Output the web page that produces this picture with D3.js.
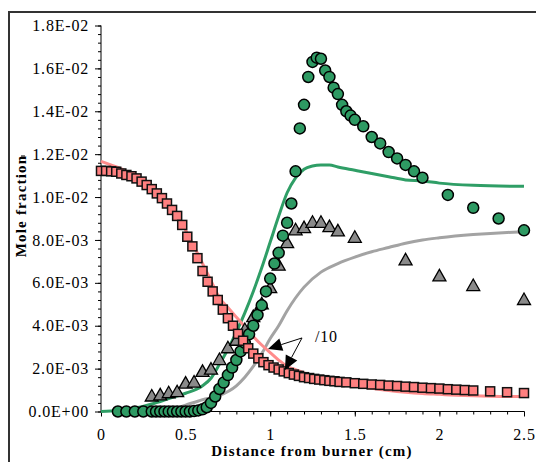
<!DOCTYPE html>
<html lang="en">
<head>
<meta charset="utf-8">
<title>Mole fraction vs distance</title>
<script src="https://cdn.jsdelivr.net/npm/d3@7"></script>
<style>
    body { margin: 0; background: #fff; }
    svg { display: block; }
</style>
</head>
<body>
<svg width="536" height="462"></svg>
<script>
// values in units of 1E-03 mole fraction
var squareX = [0, 0.03, 0.06, 0.09, 0.12, 0.15, 0.18, 0.21, 0.24, 0.27, 0.30, 0.33, 0.36, 0.39, 0.42, 0.45, 0.48,
    0.51, 0.54, 0.57, 0.60, 0.63, 0.66, 0.69, 0.72, 0.75, 0.78, 0.81, 0.84, 0.87, 0.90, 0.93, 0.96, 0.99, 1.02,
    1.05, 1.08, 1.11, 1.14, 1.17, 1.20, 1.23, 1.26, 1.29, 1.32, 1.35, 1.38, 1.41, 1.45, 1.50, 1.55, 1.60, 1.65,
    1.70, 1.75, 1.80, 1.85, 1.90, 1.95, 2.00, 2.05, 2.10, 2.15, 2.20, 2.30, 2.40, 2.50];
var squareY = [11.22, 11.22, 11.20, 11.18, 11.10, 11.03, 10.97, 10.87, 10.72, 10.56, 10.37, 10.17, 9.95, 9.70, 9.40,
    9.12, 8.70, 8.15, 7.70, 7.15, 6.55, 6.05, 5.60, 5.20, 4.75, 4.35, 4.00, 3.62, 3.30, 2.95, 2.70, 2.48, 2.30,
    2.16, 2.05, 1.96, 1.87, 1.79, 1.72, 1.66, 1.60, 1.56, 1.52, 1.49, 1.46, 1.43, 1.41, 1.38, 1.36, 1.32, 1.29,
    1.26, 1.24, 1.21, 1.19, 1.16, 1.14, 1.11, 1.09, 1.07, 1.04, 1.02, 1.00, 0.98, 0.94, 0.90, 0.86];

var pinkLineX = [0, 0.05, 0.1, 0.15, 0.2, 0.25, 0.3, 0.35, 0.4, 0.45, 0.5, 0.55, 0.6, 0.65, 0.7, 0.75, 0.8, 0.85,
    0.9, 0.95, 1.0, 1.05, 1.1, 1.15, 1.2, 1.3, 1.4, 1.5, 1.6, 1.7, 1.8, 1.9, 2.0, 2.1, 2.2, 2.3, 2.4, 2.5];
var pinkLineY = [11.67, 11.52, 11.38, 11.2, 11.0, 10.75, 10.45, 10.1, 9.65, 9.1, 8.45, 7.7, 6.9, 6.1, 5.3, 4.85,
    4.4, 3.95, 3.5, 3.1, 2.75, 2.4, 2.1, 1.95, 1.8, 1.55, 1.35, 1.2, 1.08, 0.98, 0.9, 0.84, 0.8, 0.76, 0.73, 0.71,
    0.7, 0.7];

var circleX = [0.1, 0.15, 0.2, 0.25, 0.3, 0.325, 0.35, 0.375, 0.4, 0.425, 0.45, 0.475, 0.5, 0.525, 0.55, 0.575,
    0.6, 0.625, 0.65, 0.675, 0.7, 0.725, 0.75, 0.775, 0.8, 0.825, 0.85, 0.875, 0.9, 0.925, 0.95, 0.975, 1.0,
    1.025, 1.05, 1.075, 1.1, 1.125, 1.15, 1.175, 1.2, 1.225, 1.25, 1.275, 1.3, 1.325, 1.35, 1.375, 1.4, 1.425,
    1.45, 1.475, 1.5, 1.55, 1.6, 1.65, 1.7, 1.75, 1.8, 1.85, 1.9, 2.05, 2.2, 2.35, 2.5];
var circleY = [0, 0, 0, 0, 0, 0, 0, 0, 0, 0, 0, 0, 0, 0, 0.02, 0.05, 0.1, 0.2, 0.4, 0.7, 1.05, 1.35, 1.7, 2.05,
    2.4, 2.8, 3.2, 3.6, 4.0, 4.5, 4.95, 5.6, 6.2, 6.9, 7.4, 8.2, 8.8, 9.7, 11.2, 13.2, 14.3, 15.6, 16.3, 16.5,
    16.45, 15.9, 15.6, 15.1, 14.8, 14.3, 14.0, 13.8, 13.6, 13.3, 12.8, 12.5, 12.1, 11.8, 11.5, 11.2, 10.9, 10.1,
    9.5, 9.0, 8.45];

var greenLineX = [0, 0.1, 0.2, 0.3, 0.4, 0.5, 0.6, 0.65, 0.7, 0.75, 0.8, 0.85, 0.9, 0.95, 1.0, 1.05, 1.1, 1.15,
    1.2, 1.25, 1.3, 1.35, 1.4, 1.5, 1.6, 1.7, 1.8, 1.9, 2.0, 2.2, 2.5];
var greenLineY = [0, 0.05, 0.15, 0.35, 0.6, 0.85, 1.2, 1.55, 2.2, 2.9, 3.7, 4.6, 5.6, 6.7, 7.9, 9.1, 10.2, 10.9,
    11.3, 11.45, 11.5, 11.5, 11.4, 11.25, 11.1, 10.95, 10.8, 10.75, 10.65, 10.55, 10.5];

var triangleX = [0.3, 0.35, 0.4, 0.45, 0.5, 0.55, 0.6, 0.65, 0.7, 0.75, 0.8, 0.85, 0.9, 0.95, 1.0, 1.05, 1.1,
    1.15, 1.2, 1.25, 1.3, 1.35, 1.4, 1.5, 1.8, 2.0, 2.2, 2.5];
var triangleY = [0.7, 0.75, 0.85, 0.9, 1.3, 1.35, 1.85, 1.95, 2.4, 2.95, 3.3, 3.8, 4.4, 5.0, 5.75, 6.8, 7.85,
    8.45, 8.55, 8.8, 8.8, 8.6, 8.4, 8.1, 7.05, 6.3, 5.85, 5.2];

var grayLineX = [0.3, 0.4, 0.5, 0.6, 0.7, 0.8, 0.85, 0.9, 0.95, 1.0, 1.05, 1.1, 1.2, 1.3, 1.4, 1.5, 1.6, 1.7,
    1.8, 1.9, 2.0, 2.2, 2.4, 2.5];
var grayLineY = [0, 0.05, 0.3, 0.55, 0.75, 1.2, 1.6, 2.1, 2.7, 3.4, 4.0, 4.7, 5.8, 6.5, 6.9, 7.2, 7.45, 7.65,
    7.85, 8.0, 8.1, 8.25, 8.35, 8.38];

var xTicks = [0, 0.5, 1, 1.5, 2, 2.5];
var xTickLabels = ["0", "0.5", "1", "1.5", "2", "2.5"];
var yTicks = [0, 2, 4, 6, 8, 10, 12, 14, 16, 18];
var yTickLabels = ["0.0E+00", "2.0E-03", "4.0E-03", "6.0E-03", "8.0E-03", "1.0E-02", "1.2E-02", "1.4E-02",
    "1.6E-02", "1.8E-02"];

var serif = "'Liberation Serif', 'Times New Roman', Times, serif";
var svg = d3.select("svg");
var x = d3.scaleLinear().domain([0, 2.5]).range([101, 524]);
var y = d3.scaleLinear().domain([0, 18]).range([411.5, 25.5]);

function pts(xs, ys) {
    return xs.map(function (d, i) { return [d, ys[i]]; });
}
function tickText(sel) {
    sel.attr("font-family", null).attr("font-size", null)
        .style("font-family", serif).style("font-size", "16px").style("letter-spacing", "0.8px")
        .attr("fill", "#000");
}

// outer frame (cropped)
svg.append("line").attr("x1", 9).attr("y1", 11).attr("x2", 9).attr("y2", 462)
    .attr("stroke", "#333").attr("stroke-width", 2);
svg.append("line").attr("x1", 8).attr("y1", 12).attr("x2", 536).attr("y2", 12)
    .attr("stroke", "#333").attr("stroke-width", 2);
svg.append("line").attr("x1", 21).attr("y1", 156).attr("x2", 25).attr("y2", 156)
    .attr("stroke", "#000").attr("stroke-width", 1);

// axes
var yMinor = d3.range(0, 46).map(function (i) { return i * 0.4; });
svg.append("g").attr("transform", "translate(101,0)")
    .call(d3.axisLeft(y).tickValues(yMinor).tickSize(3).tickFormat(""))
    .call(function (g) { g.select(".domain").remove(); });
svg.append("g").attr("transform", "translate(101,0)")
    .call(d3.axisLeft(y).tickValues(yTicks).tickSize(6).tickPadding(6)
        .tickFormat(function (d, i) { return yTickLabels[i]; }))
    .call(function (g) {
        g.select(".domain").attr("d", "M0," + y(0) + "V" + y(18));
        g.selectAll("text").call(tickText);
    });

var xMinor = d3.range(0, 26).map(function (i) { return i * 0.1; });
svg.append("g").attr("transform", "translate(0," + y(0) + ")")
    .call(d3.axisBottom(x).tickValues(xMinor).tickSize(3).tickFormat(""))
    .call(function (g) { g.select(".domain").remove(); });
svg.append("g").attr("transform", "translate(0," + y(0) + ")")
    .call(d3.axisBottom(x).tickValues(xTicks).tickSize(5).tickPadding(12)
        .tickFormat(function (d, i) { return xTickLabels[i]; }))
    .call(function (g) {
        g.select(".domain").attr("d", "M" + x(0) + ",0H" + x(2.5));
        g.selectAll("text").call(tickText);
    });
svg.selectAll(".domain, .tick line").attr("stroke", "#000").attr("stroke-width", 1);

// axis titles
svg.append("text")
    .style("font-family", serif).style("font-size", "15px").style("font-weight", "bold")
    .style("letter-spacing", "1.2px")
    .attr("x", 312).attr("y", 456).attr("text-anchor", "middle")
    .text("Distance from burner (cm)");
svg.append("text")
    .style("font-family", serif).style("font-size", "15px").style("font-weight", "bold")
    .style("letter-spacing", "1.2px")
    .attr("transform", "translate(26,206) rotate(-90)").attr("text-anchor", "middle")
    .text("Mole fraction");

// model lines
var line = d3.line().x(function (d) { return x(d[0]); }).y(function (d) { return y(d[1]); })
    .curve(d3.curveMonotoneX);
svg.append("path").datum(pts(greenLineX, greenLineY)).attr("d", line)
    .attr("fill", "none").attr("stroke", "#2f9e66").attr("stroke-width", 3);
svg.append("path").datum(pts(grayLineX, grayLineY)).attr("d", line)
    .attr("fill", "none").attr("stroke", "#a3a3a3").attr("stroke-width", 3);
svg.append("path").datum(pts(pinkLineX, pinkLineY)).attr("d", line)
    .attr("fill", "none").attr("stroke", "#ff8c8c").attr("stroke-width", 3);

// measured points
svg.append("g").selectAll("path")
    .data(pts(triangleX, triangleY)).enter().append("path")
    .attr("d", "M0,-7L6.5,4.5L-6.5,4.5Z")
    .attr("transform", function (d) { return "translate(" + x(d[0]) + "," + y(d[1]) + ")"; })
    .attr("fill", "#8a8a8a").attr("stroke", "#000").attr("stroke-width", 1.3);

svg.append("g").selectAll("circle")
    .data(pts(circleX, circleY)).enter().append("circle")
    .attr("cx", function (d) { return x(d[0]); })
    .attr("cy", function (d) { return y(d[1]); })
    .attr("r", 5.5)
    .attr("fill", "#2e9a63").attr("stroke", "#000").attr("stroke-width", 1.5);

svg.append("g").selectAll("rect")
    .data(pts(squareX, squareY)).enter().append("rect")
    .attr("x", function (d) { return x(d[0]) - 4.5; })
    .attr("y", function (d) { return y(d[1]) - 4.5; })
    .attr("width", 9).attr("height", 9)
    .attr("fill", "#ff8080").attr("stroke", "#111").attr("stroke-width", 1.5);

// "/10" annotation with two arrows
var noteFrom = [1.188, 3.43];
var noteTips = [[0.987, 2.92], [1.087, 1.94]];
svg.append("text").attr("x", x(1.265)).attr("y", y(3.24)).call(tickText).text("/10");
noteTips.forEach(function (t) {
    var x0 = x(noteFrom[0]), y0 = y(noteFrom[1]), x1 = x(t[0]), y1 = y(t[1]);
    var a = Math.atan2(y1 - y0, x1 - x0), len = 14, hw = 6.5;
    var bx = x1 - len * Math.cos(a), by = y1 - len * Math.sin(a);
    svg.append("line").attr("x1", x0).attr("y1", y0).attr("x2", bx).attr("y2", by)
        .attr("stroke", "#000").attr("stroke-width", 1);
    svg.append("path")
        .attr("d", "M" + x1 + "," + y1 +
            "L" + (bx + hw * Math.sin(a)) + "," + (by - hw * Math.cos(a)) +
            "L" + (bx - hw * Math.sin(a)) + "," + (by + hw * Math.cos(a)) + "Z")
        .attr("fill", "#000");
});
</script>
</body>
</html>
